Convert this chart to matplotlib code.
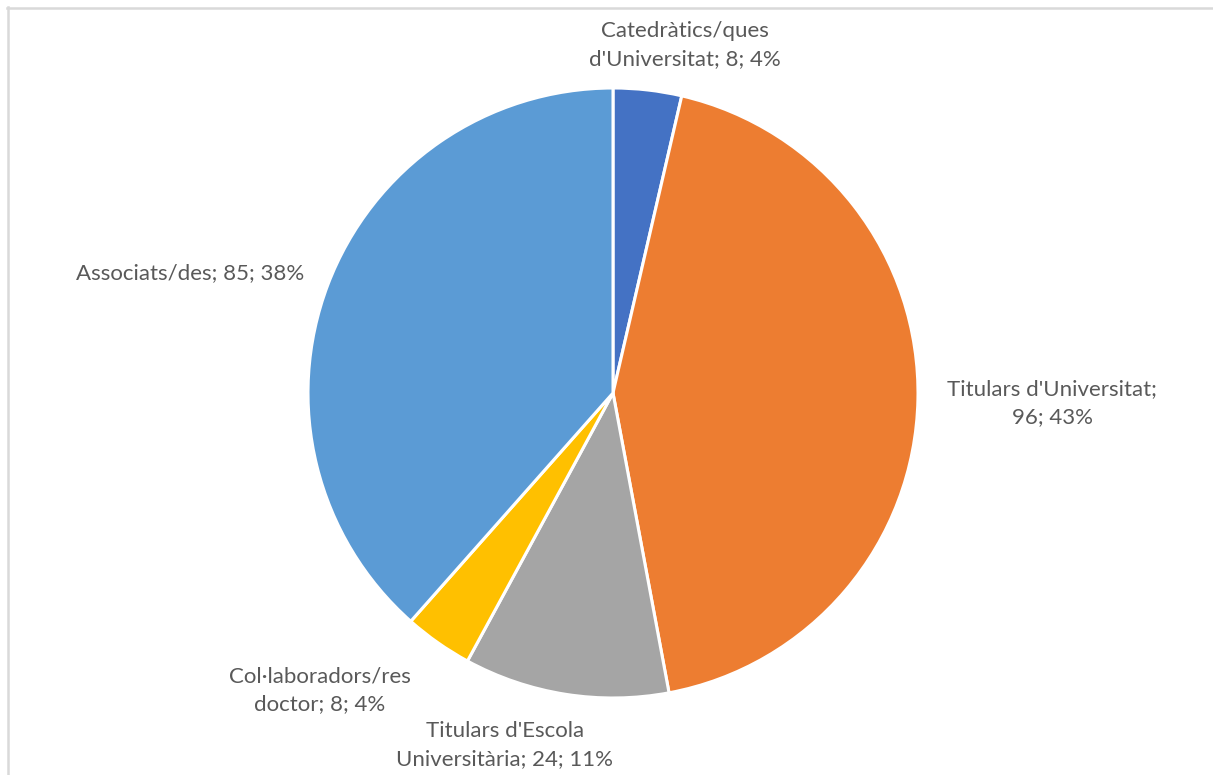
import matplotlib
matplotlib.use("Agg")
import matplotlib.pyplot as plt
from matplotlib.lines import Line2D

categories = ["Catedràtics/ques d'Universitat", "Titulars d'Universitat", "Titulars d'Escola Universitària",
              "Col·laboradors/res doctor", "Associats/des"]
values = [8, 96, 24, 8, 85]
percents = [4, 43, 11, 4, 38]
colors = ["#4472C4", "#ED7D31", "#A5A5A5", "#FFC000", "#5B9BD5"]

# how each label is wrapped (line break after this many words; None = single line)
wraps = [1, 2, 2, 1, None]

W, H = 1213, 775
fig = plt.figure(figsize=(W / 100, H / 100), dpi=100)
cx, cy, r = 613, 393, 305
ax = fig.add_axes([(cx - r) / W, (H - cy - r) / H, 2 * r / W, 2 * r / H])
ax.pie(values, colors=colors, startangle=90, counterclock=False, radius=1,
       wedgeprops=dict(edgecolor="white", linewidth=2.2))
ax.set_xlim(-1, 1)
ax.set_ylim(-1, 1)
ax.set_aspect("equal")
ax.axis("off")

labels = []
for cat, v, p, w in zip(categories, values, percents, wraps):
    full = f"{cat}; {v}; {p}%"
    if w is not None:
        words = full.split(" ")
        full = " ".join(words[:w]) + "\n" + " ".join(words[w:])
    labels.append(full)

# label positions (pixel centres)
label_px = [(685, 45), (1052, 403), (505, 745), (320, 690), (190, 273)]
for txt, (px, py) in zip(labels, label_px):
    ax.text((px - cx) / r, (cy - py) / r, txt, ha="center", va="center",
            fontsize=16, color="#595959", family="Lato", linespacing=1.45,
            clip_on=False)

# frame lines (top and left)
fig.add_artist(Line2D([7 / W, 1], [1 - 8 / H, 1 - 8 / H], transform=fig.transFigure,
                      color="#D9D9D9", linewidth=1.8))
fig.add_artist(Line2D([8 / W, 8 / W], [0, 1 - 7 / H], transform=fig.transFigure,
                      color="#D9D9D9", linewidth=1.8))

fig.savefig("out.png", dpi=100, facecolor="white")
